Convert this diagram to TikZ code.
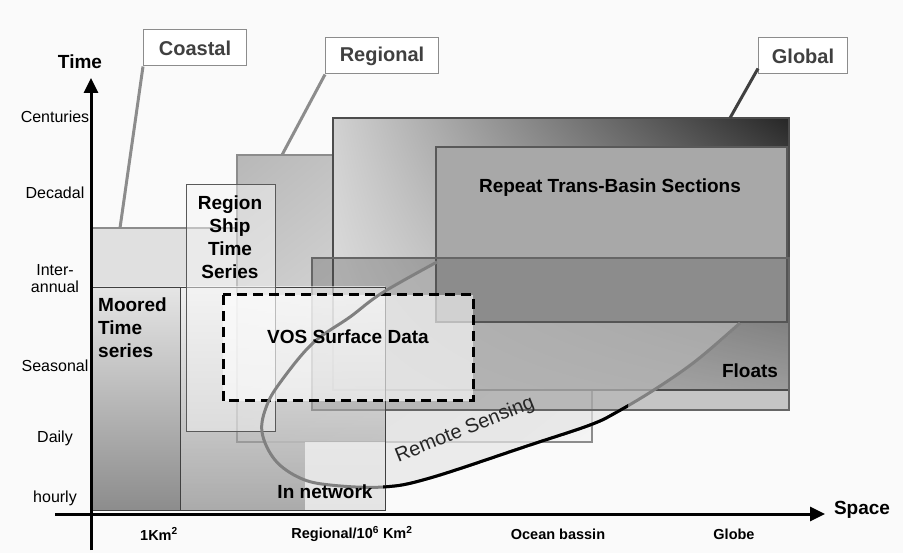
\documentclass[tikz,border=0pt]{standalone}
\usepackage{fontspec}
\setmainfont{Liberation Sans}
\usetikzlibrary{arrows.meta,shadings}

\begin{document}
\begin{tikzpicture}[x=1pt,y=-1pt,
  tagbox/.style={draw=black!45,fill=white,line width=1pt,minimum height=36pt,text=black!75,font=\fontsize{20}{22}\selectfont\bfseries},
  boxtext/.style={font=\fontsize{19}{23}\selectfont\bfseries,align=center,inner sep=1pt},
  ticktext/.style={font=\fontsize{16}{17}\selectfont,align=center},
  spacetext/.style={font=\fontsize{14.5}{16}\selectfont\bfseries},
  leader/.style={line width=3pt,draw=black!45},
  axis/.style={line width=3pt,-{Triangle[length=15pt,width=14pt]}}]
\useasboundingbox (0,0) rectangle (903,553);
\fill[black!2] (0,0) rectangle (903,553);

% coastal
\fill[black!12] (91,228) rectangle (305,510);
\draw[black!45,line width=2pt] (91,228) -- (305,228);
% regional
\shade[lower left=black!14,upper left=black!28,lower right=black!4,upper right=black!14] (237,155) rectangle (592,442);
\draw[black!45,line width=2pt] (237,155) rectangle (592,442);
% global
\shade[lower left=black!12,upper left=black!18,lower right=black!25,upper right=black!85] (333,118) rectangle (789,390);
\draw[black!70,line width=2pt] (333,118) rectangle (789,390);
% remote sensing area
\fill[black!10,fill opacity=.7] plot[smooth cycle,tension=.6] coordinates {(740,323) (697,360) (657,388) (617,412) (590,425) (530,445) (430,478) (383,487) (330,485) (300,478) (275,460) (262,432) (267,405) (282,380) (313,343) (350,317) (382,293) (437,262) (560,215) (700,215) (770,270)};
% repeat sections
\fill[black!34] (436,147) rectangle (787,322);
\draw[black!65,line width=1.2pt] (436,147) rectangle (787,322);
% floats
\fill[black!70,fill opacity=.3] (312,258) rectangle (789,410);
\draw[black!60,line width=1.5pt] (312,258) rectangle (789,410);
% in network
\shade[top color=white,bottom color=black!50,fill opacity=.55] (180,287) rectangle (385,510);
\fill[black!6,fill opacity=.8] (305,442) rectangle (385,510);
\draw[black!75,line width=.8pt] (180,287) rectangle (385,510);
% moored
\shade[top color=black!10,bottom color=black!45] (91,287) rectangle (180,510);
\draw[black!75,line width=.8pt] (91,287) rectangle (180,510);
% region ship
\fill[black!4,fill opacity=.5] (186,185) rectangle (275,432);
\draw[black!65,line width=1pt] (186,185) rectangle (275,432);
% vos
\fill[white,fill opacity=.6] (223,295) rectangle (473,401);
\draw[line width=3pt,dash pattern=on 10pt off 6pt] (223,295) rectangle (473,401);
% remote sensing curve
\draw[black!50,line width=3pt] plot[smooth,tension=.6] coordinates {(740,323) (697,360) (657,388) (617,412) (590,425) (530,445) (430,478) (383,487) (330,485) (300,478) (275,460) (262,432) (267,405) (282,380) (313,343) (350,317) (382,293) (437,262)};
\begin{scope}
\clip (383,400) rectangle (628,500);
\draw[black,line width=3pt] plot[smooth,tension=.6] coordinates {(740,323) (697,360) (657,388) (617,412) (590,425) (530,445) (430,478) (383,487) (330,485) (300,478) (275,460) (262,432) (267,405) (282,380) (313,343) (350,317) (382,293) (437,262)};
\end{scope}

% labels of the boxes
\node[boxtext] (shiplbl) at (230,237) {Region\\Ship\\Time\\Series};
\node[boxtext,align=left,anchor=north west] (mooredlbl) at (97,297) {Moored\\Time\\series};
\node[boxtext] (voslbl) at (348,337) {VOS Surface Data};
\node[boxtext] (repeatlbl) at (610,188) {Repeat Trans-Basin Sections};
\node[boxtext] (floatslbl) at (750,371) {Floats};
\node[boxtext] (netlbl) at (325,492) {In network};
\node[font=\fontsize{20}{21}\selectfont,text=black!85,rotate=22] (rslbl) at (465,430) {Remote Sensing};

% scale tags
\node[tagbox,minimum width=103pt] (coastal) at (195,48) {Coastal};
\node[tagbox,minimum width=113pt] (regional) at (382,56) {Regional};
\node[tagbox,minimum width=89pt] (global) at (803,56) {Global};
\coordinate (coastaltop) at (120,228);
\coordinate (regionaltop) at (282,155);
\coordinate (globaltop) at (730,118);
\draw[leader] (coastal.south west) -- (coastaltop);
\draw[leader] (regional.south west) -- (regionaltop);
\draw[leader,draw=black!75] ([yshift=6pt]global.south west) -- (globaltop);

% axes
\coordinate (ybot) at (91,550);
\coordinate (ytop) at (91,78);
\coordinate (xleft) at (55,514);
\coordinate (xright) at (825,514);
\draw[axis] (ybot) -- (ytop);
\draw[axis] (xleft) -- (xright);
\node[font=\fontsize{19}{20}\selectfont\bfseries] (timelbl) at (80,62) {Time};
\node[font=\fontsize{19}{20}\selectfont\bfseries] (spacelbl) at (862,510) {Space};

\foreach \lbl/\yy in {Centuries/117,Decadal/193,Seasonal/366,Daily/438,hourly/498}
  \node[ticktext] (t-\lbl) at (55,\yy) {\lbl};
\node[ticktext] (t-inter) at (55,279) {Inter-\\annual};

\node[spacetext] (s-km) at (159,534) {1Km\textsuperscript{2}};
\node[spacetext] (s-reg) at (352,534) {Regional/10\textsuperscript{6} Km\textsuperscript{2}};
\node[spacetext] (s-ocean) at (558,534) {Ocean bassin};
\node[spacetext] (s-globe) at (734,534) {Globe};

\end{tikzpicture}
\end{document}
